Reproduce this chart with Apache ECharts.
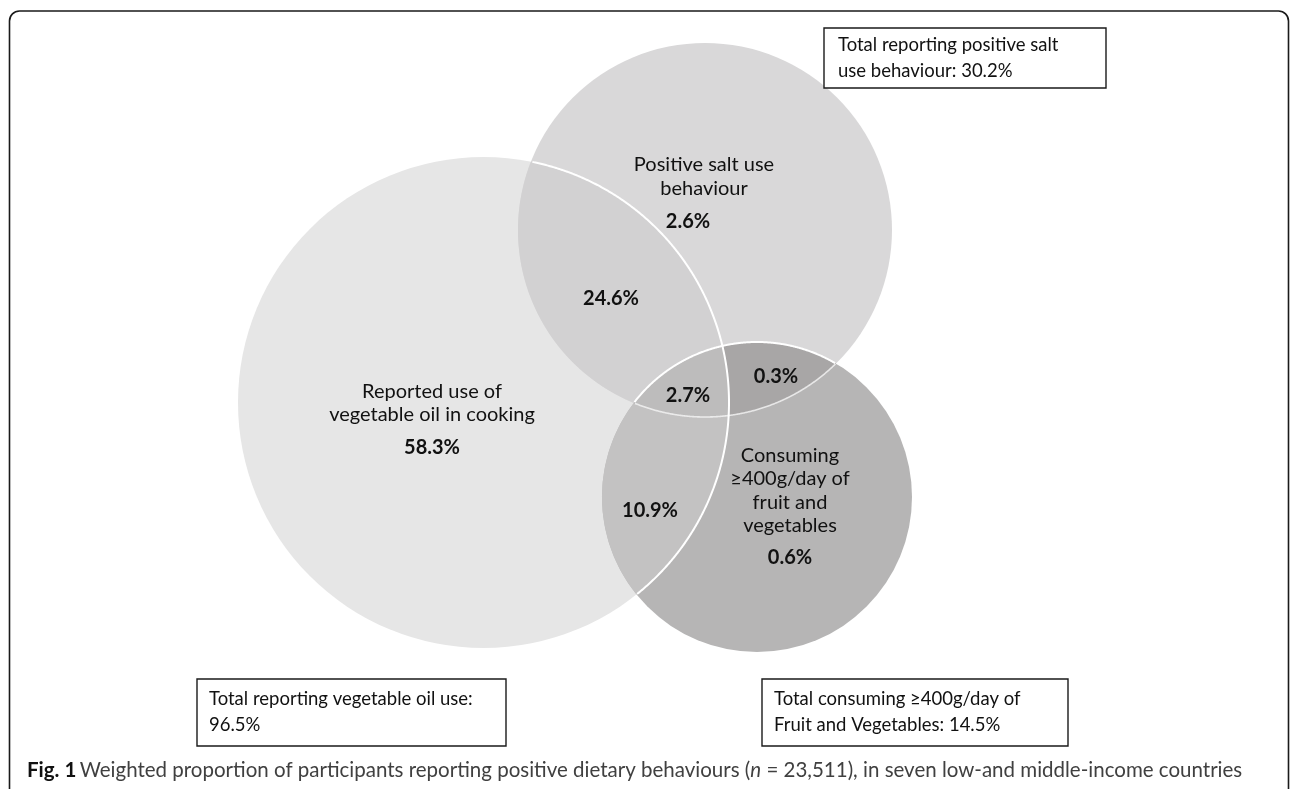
<!DOCTYPE html>
<html><head><meta charset="utf-8">
<script src="https://cdn.jsdelivr.net/npm/echarts@6/dist/echarts.min.js"></script>
<style>html,body{margin:0;padding:0;background:#fff}#chart{width:1290px;height:789px}</style>
</head><body><div id="chart"></div>
<script>
// ---------------- data ----------------
const setNames = ['Reported use of\nvegetable oil in cooking', 'Positive salt use\nbehaviour', 'Consuming\n≥400g/day of\nfruit and\nvegetables'];
const totalPrefix = ['Total reporting vegetable oil use:\n', 'Total reporting positive salt\nuse behaviour: ', 'Total consuming ≥400g/day of\nFruit and Vegetables: '];
const setTotals = [96.5, 30.2, 14.5];
const regionSets = [[0], [1], [2], [0, 1], [0, 2], [1, 2], [0, 1, 2]];
const regionValues = [58.3, 2.6, 0.6, 24.6, 10.9, 0.3, 2.7];
const captionBold = 'Fig. 1';
const captionText = 'Weighted proportion of participants reporting positive dietary behaviours (';
const captionItalic = 'n';
const captionRest = ' = 23,511), in seven low-and middle-income countries';

// ---------------- layout / style (axis units = pixels) ----------------
const layout = {
  circle: [[483.5, 402.5, 245.5], [705, 230, 187], [757, 497, 155]],
  regionColor: ['#e6e6e6', '#d9d8d9', '#b6b5b5', '#d2d1d2', '#c3c2c2', '#a8a6a6', '#bdbcbc'],
  valuePos: [[432, 448], [688, 222], [790, 558], [611, 299], [650, 511], [776, 377], [688, 396]],
  namePos: [[432, 403], [704, 176.5], [790, 490.5]],
  box: [[197, 679, 309, 67], [824, 28, 282, 60], [762, 679, 306, 67]],
  boxPad: [12, 14, 12]
};
const FONT = 'Lato, "Open Sans", sans-serif';

function circPx(api, k) {
  const c = layout.circle[k];
  const p = api.coord([c[0], c[1]]);
  const s = api.size([c[2], c[2]]);
  return [p[0], p[1], s[0]];
}
function inside(pt, c, eps) { return Math.hypot(pt[0] - c[0], pt[1] - c[1]) <= c[2] + (eps || 0.01); }
function regionPolygon(cs, set) {
  const pts = [], N = 1440;
  set.forEach(k => {
    const [x0, y0, r] = cs[k];
    for (let t = 0; t < N; t++) {
      const a = 2 * Math.PI * t / N;
      const p = [x0 + r * Math.cos(a), y0 + r * Math.sin(a)];
      if (set.every(j => j === k || inside(p, cs[j]))) pts.push(p);
    }
  });
  let mx = 0, my = 0;
  pts.forEach(p => { mx += p[0]; my += p[1]; });
  mx /= pts.length; my /= pts.length;
  pts.sort((p, q) => Math.atan2(p[1] - my, p[0] - mx) - Math.atan2(q[1] - my, q[0] - mx));
  return pts;
}
function arcRuns(c, cond) {
  const N = 1440, pts = [], flags = [];
  for (let t = 0; t < N; t++) {
    const a = 2 * Math.PI * t / N;
    const p = [c[0] + c[2] * Math.cos(a), c[1] + c[2] * Math.sin(a)];
    pts.push(p); flags.push(cond(p));
  }
  let s = flags.indexOf(false);
  if (s < 0) return [pts.concat([pts[0]])];
  const runs = []; let cur = [];
  for (let i = 1; i <= N; i++) {
    const idx = (s + i) % N;
    if (flags[idx]) cur.push(pts[idx]);
    else if (cur.length) { runs.push(cur); cur = []; }
  }
  if (cur.length) runs.push(cur);
  return runs;
}
// edges: circle index, circles it must lie inside (any), style
const edges = [
  { c: 0, within: [1, 2], color: '#ffffff', w: 2 },
  { c: 2, within: [1], color: '#ffffff', w: 2 },
  { c: 1, within: [2], color: 'rgba(255,255,255,0.7)', w: 1.6 }
];

const chart = echarts.init(document.getElementById('chart'), null, { renderer: 'canvas' });
const option = {
  animation: false,
  backgroundColor: '#ffffff',
  grid: { left: 0, right: 0, top: 0, bottom: 0 },
  xAxis: { type: 'value', min: 0, max: 1290, show: false },
  yAxis: { type: 'value', min: 0, max: 789, inverse: true, show: false },
  graphic: [
    { type: 'rect', z: 100, silent: true,
      shape: { x: 9.5, y: 11, width: 1279, height: 800, r: 10 },
      style: { fill: 'none', stroke: '#1a1a1a', lineWidth: 1.6 } },
    { type: 'text', z: 100, silent: true, left: 27, top: 760,
      style: {
        text: '{b|' + captionBold + '} {n|' + captionText + '}{i|' + captionItalic + '}{n|' + captionRest + '}',
        rich: {
          b: { fontFamily: FONT, fontWeight: 'bold', fontSize: 20.5, fill: '#111' },
          n: { fontFamily: FONT, fontSize: 20.5, fill: '#404040' },
          i: { fontFamily: FONT, fontSize: 20.5, fontStyle: 'italic', fill: '#404040' }
        }
      } }
  ],
  series: [
    { // region fills
      type: 'custom', silent: true, z: 1,
      data: regionSets.map((s, i) => [i]),
      renderItem: function (params, api) {
        const i = api.value(0);
        const set = regionSets[i];
        const cs = [0, 1, 2].map(k => circPx(api, k));
        if (set.length === 1) {
          const c = cs[set[0]];
          return { type: 'circle', shape: { cx: c[0], cy: c[1], r: c[2] }, style: { fill: layout.regionColor[i] } };
        }
        return { type: 'polygon', shape: { points: regionPolygon(cs, set) }, style: { fill: layout.regionColor[i] } };
      }
    },
    { // white edge arcs
      type: 'custom', silent: true, z: 2,
      data: edges.map((e, i) => [i]),
      renderItem: function (params, api) {
        const e = edges[api.value(0)];
        const cs = [0, 1, 2].map(k => circPx(api, k));
        const runs = arcRuns(cs[e.c], p => e.within.some(j => inside(p, cs[j], -0.5)));
        return { type: 'group', children: runs.map(r => ({ type: 'polyline', shape: { points: r },
          style: { fill: 'none', stroke: e.color, lineWidth: e.w } })) };
      }
    },
    { // region values
      type: 'custom', silent: true, z: 3,
      data: regionValues.map((v, i) => [i, v]),
      renderItem: function (params, api) {
        const i = api.value(0);
        const p = api.coord(layout.valuePos[i]);
        return { type: 'text', style: { text: api.value(1).toFixed(1) + '%', x: p[0], y: p[1],
          align: 'center', verticalAlign: 'middle', fontFamily: FONT, fontWeight: 'bold', fontSize: 20, fill: '#111' } };
      }
    },
    { // set names
      type: 'custom', silent: true, z: 3,
      data: setNames.map((n, i) => [i]),
      renderItem: function (params, api) {
        const i = api.value(0);
        const p = api.coord(layout.namePos[i]);
        return { type: 'text', style: { text: setNames[i], x: p[0], y: p[1], align: 'center', verticalAlign: 'middle',
          fontFamily: FONT, fontSize: 20, lineHeight: 23.5, fill: '#111' } };
      }
    },
    { // total boxes
      type: 'custom', silent: true, z: 3,
      data: setTotals.map((v, i) => [i, v]),
      renderItem: function (params, api) {
        const i = api.value(0);
        const b = layout.box[i];
        const p = api.coord([b[0], b[1]]);
        const s = api.size([b[2], b[3]]);
        return { type: 'group', children: [
          { type: 'rect', shape: { x: p[0], y: p[1], width: s[0], height: s[1] },
            style: { fill: '#ffffff', stroke: '#1a1a1a', lineWidth: 1.4 } },
          { type: 'text', style: { text: totalPrefix[i] + api.value(1).toFixed(1) + '%', x: p[0] + layout.boxPad[i], y: p[1] + s[1] / 2,
            align: 'left', verticalAlign: 'middle', fontFamily: FONT, fontSize: 18.5, lineHeight: 26, fill: '#111' } }
        ] };
      }
    }
  ]
};
chart.setOption(option);
</script></body></html>
